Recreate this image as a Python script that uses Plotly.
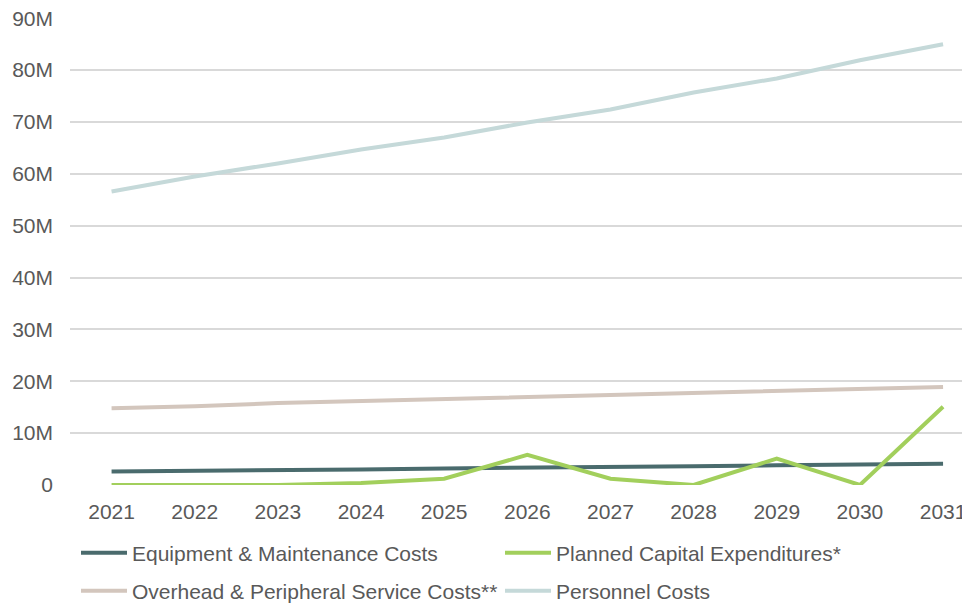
import plotly.graph_objects as go

years = ["2021", "2022", "2023", "2024", "2025", "2026", "2027", "2028", "2029", "2030", "2031"]
equipment = [2.6, 2.7, 2.9, 3.0, 3.2, 3.3, 3.5, 3.6, 3.8, 3.9, 4.1]
capex = [0.0, 0.0, 0.0, 0.4, 1.2, 5.8, 1.2, 0.0, 5.1, 0.0, 15.1]
overhead = [14.8, 15.2, 15.8, 16.2, 16.6, 17.0, 17.3, 17.7, 18.1, 18.5, 18.9]
personnel = [56.6, 59.5, 62.0, 64.7, 67.0, 69.9, 72.4, 75.7, 78.4, 81.9, 85.0]

ytick_vals = [0, 10, 20, 30, 40, 50, 60, 70, 80, 90]
ytick_text = ["0", "10M", "20M", "30M", "40M", "50M", "60M", "70M", "80M", "90M"]

series = [
    ("Equipment & Maintenance Costs", equipment, "#4a6b6d", "legend"),
    ("Planned Capital Expenditures*", capex, "#a2cf5c", "legend"),
    ("Overhead & Peripheral Service Costs**", overhead, "#d3c6bd", "legend2"),
    ("Personnel Costs", personnel, "#c5d9d9", "legend2"),
]

fig = go.Figure()
for name, vals, color, leg in series:
    fig.add_trace(go.Scatter(
        x=years, y=[v * 1e6 for v in vals], name=name, mode="lines",
        line=dict(color=color, width=4), legend=leg,
    ))

# page body adds an 8px offset; figure is sized to fit the 970x605 window
W, H = 962, 597
font = dict(family="Liberation Sans, Arial, sans-serif", size=21, color="#595959")
legend_common = dict(orientation="h", xanchor="left", yanchor="middle",
                     xref="container", yref="container",
                     font=font, entrywidth=363, itemwidth=46,
                     bgcolor="rgba(0,0,0,0)", traceorder="normal")

fig.update_layout(
    width=W, height=H,
    margin=dict(l=62, r=2, t=10, b=120, autoexpand=False),
    paper_bgcolor="white", plot_bgcolor="white",
    font=font,
    xaxis=dict(range=[-0.5, 10.3], showgrid=False, zeroline=False, showline=False,
               ticks="", ticklabelstandoff=12, tickfont=font, automargin=False,
               ticklabeloverflow="allow"),
    yaxis=dict(range=[0, 90.05e6], tickvals=[v * 1e6 for v in ytick_vals], ticktext=ytick_text,
               showgrid=True, gridcolor="#d9d9d9", gridwidth=1.5, zeroline=False,
               showline=False, ticks="", ticklabelstandoff=16, tickfont=font, automargin=False,
               ticklabeloverflow="allow"),
    legend=dict(x=(76 - 8) / W, y=1 - (553 - 8) / H, **legend_common),
    legend2=dict(x=(76 - 8) / W, y=1 - (591 - 8) / H, **legend_common),
    showlegend=True,
)

fig.write_html("out.html")
